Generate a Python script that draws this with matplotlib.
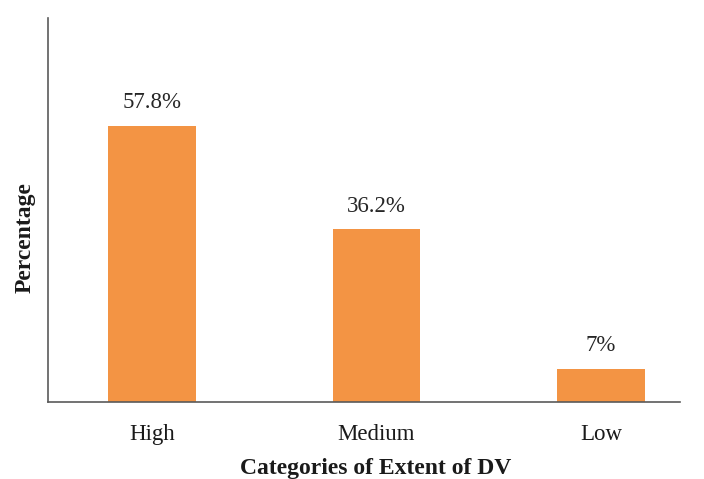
import matplotlib.pyplot as plt

# data
categorias = ['High', 'Medium', 'Low']
percentuais = [57.8, 36.2, 7.0]
rotulos = ['57.8%', '36.2%', '7%']

plt.rcParams['font.family'] = ['Liberation Serif', 'DejaVu Serif']

fig = plt.figure(figsize=(7.04, 4.79), dpi=100)
ax = fig.add_axes([0.0682, 0.1608, 0.8977, 0.8016])

x = range(len(categorias))
barras = ax.bar(x, percentuais, width=0.39, color='#F39444')

for b, txt in zip(barras, rotulos):
    ax.annotate(txt, (b.get_x() + b.get_width() / 2, b.get_height()),
                xytext=(0, 9), textcoords='offset points',
                ha='center', va='bottom', fontsize=16.5, color='#262626')

ax.set_xlim(-0.463, 2.352)
ax.set_ylim(0, 80.4)
ax.set_xticks(list(x))
ax.set_xticklabels(categorias, fontsize=16.5, color='#1a1a1a')
ax.set_yticks([])
ax.tick_params(axis='x', length=0, pad=16)

for lado in ['top', 'right']:
    ax.spines[lado].set_visible(False)
for lado in ['left', 'bottom']:
    ax.spines[lado].set_color('#5a5a5a')
    ax.spines[lado].set_linewidth(1.2)

fig.text(0.534, 0.022, 'Categories of Extent of DV', ha='center', va='center',
         fontsize=17, fontweight='bold', color='#1a1a1a')
fig.text(0.036, 0.505, 'Percentage', ha='center', va='center', rotation=90,
         fontsize=17, fontweight='bold', color='#1a1a1a')

plt.savefig('out.png', dpi=100)
